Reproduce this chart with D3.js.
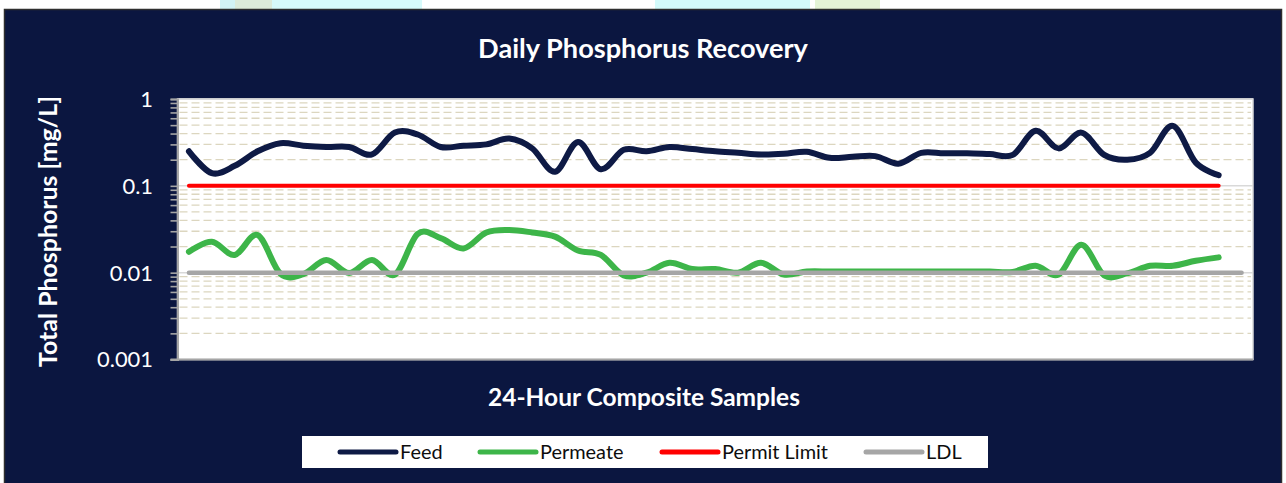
<!DOCTYPE html>
<html><head><meta charset="utf-8">
<script src="https://cdn.jsdelivr.net/npm/d3@7"></script>
<style>html,body{margin:0;padding:0;background:#fff;} svg{display:block;}</style>
</head><body>
<svg id="c" width="1286" height="483"></svg>
<script>
// ---------- data ----------
const samples = [1,2,3,4,5,6,7,8,9,10,11,12,13,14,15,16,17,18,19,20,21,22,23,24,25,26,27,28,29,30,31,32,33,34,35,36,37,38,39,40,41,42,43,44,45,46,47];
const feed = [0.25,0.14,0.17,0.25,0.31,0.29,0.28,0.28,0.23,0.41,
              0.39,0.28,0.29,0.30,0.35,0.27,0.145,0.32,0.155,0.26,
              0.25,0.28,0.265,0.25,0.24,0.23,0.234,0.247,0.21,0.216,
              0.22,0.18,0.24,0.237,0.237,0.232,0.227,0.43,0.27,0.41,
              0.227,0.2,0.24,0.49,0.185,0.133];
const permeate = [0.0174,0.0227,0.016,0.0271,0.0097,0.0096,0.014,0.0099,0.014,0.0095,
                  0.028,0.025,0.019,0.029,0.031,0.029,0.026,0.018,0.016,0.0093,
                  0.0100,0.013,0.011,0.011,0.0100,0.013,0.0095,0.0103,0.0103,0.0103,
                  0.0103,0.0103,0.0103,0.0103,0.0103,0.0103,0.0102,0.012,0.0095,0.021,
                  0.0093,0.0098,0.012,0.012,0.0137,0.015];
const permitLimit = [0.1,0.1,0.1,0.1,0.1,0.1,0.1,0.1,0.1,0.1,0.1,0.1,0.1,0.1,0.1,0.1,0.1,0.1,0.1,0.1,0.1,0.1,0.1,
                     0.1,0.1,0.1,0.1,0.1,0.1,0.1,0.1,0.1,0.1,0.1,0.1,0.1,0.1,0.1,0.1,0.1,0.1,0.1,0.1,0.1,0.1,0.1];
const ldl = [0.01,0.01,0.01,0.01,0.01,0.01,0.01,0.01,0.01,0.01,0.01,0.01,0.01,0.01,0.01,0.01,0.01,0.01,0.01,0.01,0.01,0.01,0.01,0.01,
             0.01,0.01,0.01,0.01,0.01,0.01,0.01,0.01,0.01,0.01,0.01,0.01,0.01,0.01,0.01,0.01,0.01,0.01,0.01,0.01,0.01,0.01,0.01];
const yTickValues = [0.001, 0.01, 0.1, 1];
const yTickLabels = ["0.001", "0.01", "0.1", "1"];
const seriesNames = ["Feed", "Permeate", "Permit Limit", "LDL"];
const titleText = "Daily Phosphorus Recovery";
const xTitleText = "24-Hour Composite Samples";
const yTitleText = "Total Phosphorus [mg/L]";

// ---------- layout / style ----------
const W = 1286, H = 483;
const FONT = "Lato, 'Open Sans', sans-serif";
const NAVY = "#0b1640";
const seriesColors = ["#0e1a45", "#3db549", "#ff0000", "#a6a6a6"];
const plot = {l: 177.5, r: 1253, t: 99, b: 359.5};

const svg = d3.select("#c");

function fit(sel, target) {
  const w = sel.node().getComputedTextLength();
  const fs = parseFloat(sel.attr("font-size"));
  const nf = fs * target / w;
  sel.attr("font-size", nf);
  return nf;
}

// page background + top strip patches
svg.append("rect").attr("width", W).attr("height", H).attr("fill", "#fff");
const patches = [[220, 15, "#d2f3f4"], [235, 37, "#dcebd9"], [272, 150, "#d6fafa"], [655, 155, "#d3fbfb"], [815, 65, "#e4f3d6"]];
svg.selectAll("rect.patch").data(patches).enter().append("rect")
  .attr("x", d => d[0]).attr("y", 0).attr("width", d => d[1]).attr("height", 10).attr("fill", d => d[2]);

// chart frame
svg.append("rect").attr("x", 4.5).attr("y", 9.5).attr("width", 1277).attr("height", 480)
  .attr("fill", NAVY).attr("stroke", "#2e2e2e").attr("stroke-width", 1.5);

// scales
const x = d3.scalePoint().domain(samples).range([plot.l, plot.r]).padding(0.5);
const y = d3.scaleLog().domain([0.001, 1]).range([plot.b, plot.t]);

// plot area
svg.append("rect").attr("x", plot.l).attr("y", plot.t).attr("width", plot.r - plot.l).attr("height", plot.b - plot.t)
  .attr("fill", "#fff").attr("stroke", "#d9d9d9").attr("stroke-width", 1.5);

// minor gridlines
const minors = [];
[0.001, 0.01, 0.1].forEach(k => { for (let m = 2; m <= 9; m++) minors.push(m * k); });
svg.append("g").selectAll("line").data(minors).enter().append("line")
  .attr("x1", plot.l + 2).attr("x2", plot.r - 2)
  .attr("y1", d => y(d)).attr("y2", d => y(d))
  .attr("stroke", "#dcd6bf").attr("stroke-width", 1.3).attr("stroke-dasharray", "8,4");
// major gridlines
svg.append("g").selectAll("line").data([0.01, 0.1, 1]).enter().append("line")
  .attr("x1", plot.l).attr("x2", plot.r)
  .attr("y1", d => y(d)).attr("y2", d => y(d))
  .attr("stroke", "#d9d9d9").attr("stroke-width", 1.5);

// y axis with major + minor ticks
const allTicks = yTickValues.concat(minors);
const yAxis = d3.axisLeft(y).tickValues(allTicks).tickSize(7).tickFormat(() => "");
const gy = svg.append("g").attr("transform", `translate(${plot.l},0)`).call(yAxis);
gy.select(".domain").attr("stroke", "#a6a6a6").attr("stroke-width", 2);
gy.selectAll(".tick line").attr("stroke", "#a6a6a6").attr("stroke-width", 1.6);
// bottom axis line
svg.append("line").attr("x1", plot.l - 7).attr("x2", plot.r).attr("y1", plot.b).attr("y2", plot.b)
  .attr("stroke", "#a6a6a6").attr("stroke-width", 2);

// tick labels
const tl = svg.append("g").selectAll("text").data(yTickValues).enter().append("text")
  .attr("x", 153).attr("y", d => y(d)).attr("dy", "0.36em")
  .attr("text-anchor", "end").attr("fill", "#fff").attr("font-family", FONT).attr("font-size", 22)
  .text((d, i) => yTickLabels[i]);
const tickFs = fit(tl.filter((d, i) => i === 0), 56);
tl.attr("font-size", tickFs);

// series
const curved = d3.line().x((d, i) => x(samples[i])).y(d => y(d)).curve(d3.curveCardinal.tension(0));
const straight = d3.line().x((d, i) => x(samples[i])).y(d => y(d));

svg.append("path").datum(permitLimit).attr("d", straight).attr("fill", "none")
  .attr("stroke", seriesColors[2]).attr("stroke-width", 4).attr("stroke-linecap", "round");
svg.append("path").datum(feed).attr("d", curved).attr("fill", "none")
  .attr("stroke", seriesColors[0]).attr("stroke-width", 6).attr("stroke-linecap", "round").attr("stroke-linejoin", "round");
svg.append("path").datum(permeate).attr("d", curved).attr("fill", "none")
  .attr("stroke", seriesColors[1]).attr("stroke-width", 6).attr("stroke-linecap", "round").attr("stroke-linejoin", "round");
svg.append("path").datum(ldl).attr("d", straight).attr("fill", "none")
  .attr("stroke", seriesColors[3]).attr("stroke-width", 4.5).attr("stroke-linecap", "round");

// titles
const t1 = svg.append("text").attr("x", 643).attr("y", 57.5).attr("text-anchor", "middle")
  .attr("fill", "#fff").attr("font-family", FONT).attr("font-weight", "bold").attr("font-size", 21).text(titleText);
fit(t1, 330);
const t2 = svg.append("text").attr("x", 644).attr("y", 405.5).attr("text-anchor", "middle")
  .attr("fill", "#fff").attr("font-family", FONT).attr("font-weight", "bold").attr("font-size", 20).text(xTitleText);
fit(t2, 312);
const t3 = svg.append("text").attr("transform", "translate(57,231.5) rotate(-90)").attr("text-anchor", "middle")
  .attr("fill", "#fff").attr("font-family", FONT).attr("font-weight", "bold").attr("font-size", 19).text(yTitleText);
fit(t3, 271);

// legend
const legendX = [340, 480, 662, 866];
svg.append("rect").attr("x", 302).attr("y", 436).attr("width", 686).attr("height", 32).attr("fill", "#fff");
const lg = svg.append("g").selectAll("g").data(seriesNames).enter().append("g");
lg.append("line").attr("x1", (d, i) => legendX[i]).attr("x2", (d, i) => legendX[i] + 56)
  .attr("y1", 452).attr("y2", 452).attr("stroke", (d, i) => seriesColors[i])
  .attr("stroke-width", 5).attr("stroke-linecap", "round");
const lt = lg.append("text").attr("x", (d, i) => legendX[i] + 60).attr("y", 458.5)
  .attr("fill", "#0d0d0d").attr("font-family", FONT).attr("font-size", 18).text(d => d);
const lfs = fit(lt.filter((d, i) => i === 2), 106);
lt.attr("font-size", lfs);
</script>
</body></html>
